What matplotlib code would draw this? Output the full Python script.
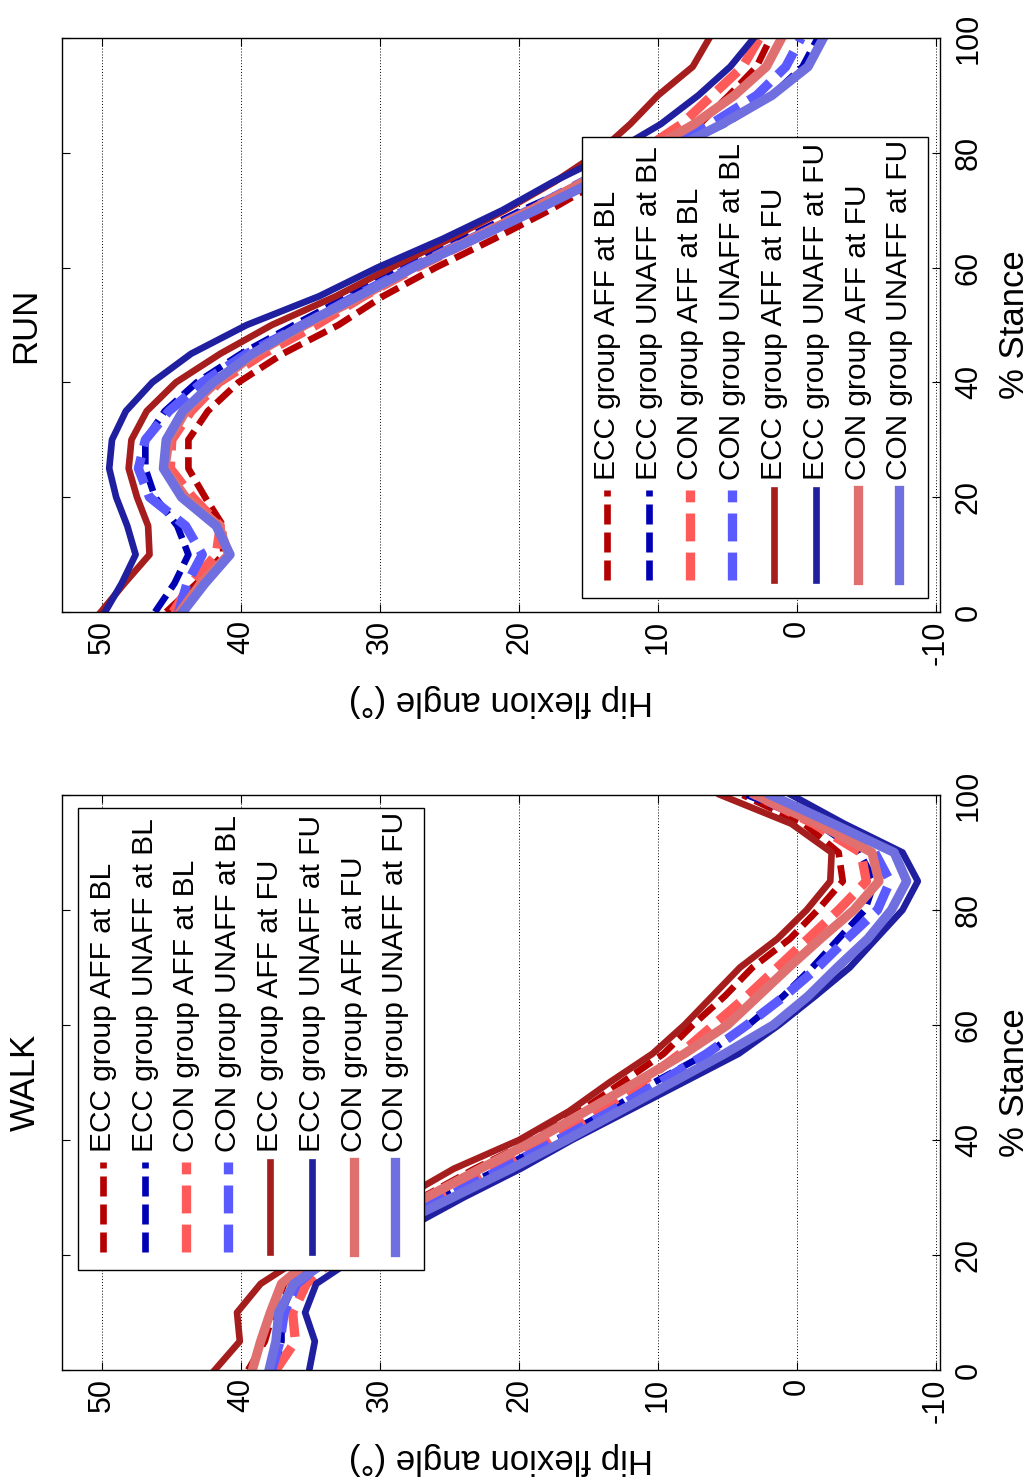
import matplotlib
matplotlib.use('Agg')
import matplotlib.pyplot as plt
from matplotlib.patches import Rectangle

plt.rcParams['font.family'] = ['Liberation Sans', 'DejaVu Sans']
plt.rcParams['axes.unicode_minus'] = False

# % de apoyo (eje vertical de la figura girada)
stance = [0, 5, 10, 15, 20, 25, 30, 35, 40, 45, 50, 55, 60, 65, 70, 75, 80, 85, 90, 95, 100]

# RUN - angulo de flexion de cadera (grados)
run_ecc_aff_bl = [45.4, 43.2, 41.3, 41.3, 42.6, 43.8, 43.8, 42.4, 40.2, 37.0, 33.0, 29.8, 26.0, 21.8, 17.8, 14.2, 10.4, 7.0, 4.9, 2.9, 1.9]
run_ecc_unaff_bl = [46.2, 44.8, 43.8, 44.6, 46.2, 46.9, 46.9, 45.5, 43.2, 40.0, 36.2, 32.3, 28.3, 24.0, 19.8, 15.2, 9.6, 5.2, 1.8, -0.4, -1.5]
run_con_aff_bl = [44.9, 43.6, 41.8, 41.5, 43.5, 45.1, 45.0, 43.6, 41.6, 38.4, 34.6, 31.2, 27.4, 23.2, 19.0, 15.3, 11.4, 8.3, 6.1, 3.9, 2.7]
run_con_unaff_bl = [44.5, 43.9, 42.8, 44.0, 46.6, 47.4, 46.9, 45.2, 42.8, 39.6, 35.6, 31.8, 27.8, 23.5, 19.3, 15.4, 10.0, 6.2, 2.9, 0.8, -0.3]
run_ecc_aff_fu = [50.1, 48.4, 46.6, 46.7, 47.5, 48.1, 47.9, 46.8, 44.7, 41.5, 37.8, 33.2, 29.2, 25.0, 21.0, 17.4, 14.3, 12.0, 10.0, 7.5, 6.3]
run_ecc_unaff_fu = [49.8, 48.6, 47.6, 48.2, 49.0, 49.5, 49.3, 48.3, 46.4, 43.6, 39.6, 34.4, 30.2, 25.5, 21.2, 17.5, 13.3, 9.8, 7.1, 4.8, 3.1]
run_con_aff_fu = [44.4, 42.9, 40.9, 41.6, 44.0, 45.5, 45.2, 44.0, 41.8, 39.0, 35.4, 31.3, 27.6, 23.4, 19.2, 15.3, 11.0, 7.4, 4.5, 2.2, 1.1]
run_con_unaff_fu = [44.2, 42.6, 40.8, 41.8, 44.3, 45.6, 45.4, 44.2, 42.0, 39.2, 35.6, 31.6, 27.6, 23.2, 18.8, 14.6, 9.4, 5.4, 1.8, -0.8, -1.9]

# WALK - angulo de flexion de cadera (grados)
walk_ecc_aff_bl = [39.5, 38.3, 37.7, 36.9, 34.3, 30.6, 27.0, 23.2, 19.0, 15.6, 12.6, 9.6, 7.5, 5.2, 3.2, 0.5, -1.5, -3.3, -3.0, -0.5, 3.9]
walk_ecc_unaff_bl = [37.6, 37.1, 37.1, 36.2, 33.6, 29.6, 25.6, 21.4, 17.4, 13.6, 10.3, 6.5, 3.5, 1.0, -1.1, -3.0, -4.9, -5.6, -4.5, -1.5, 3.6]
walk_con_aff_bl = [37.5, 36.1, 36.3, 35.3, 33.0, 29.2, 25.4, 21.6, 17.8, 14.3, 11.2, 8.4, 6.0, 3.6, 1.4, -0.8, -3.0, -5.0, -4.6, -1.2, 3.0]
walk_con_unaff_bl = [37.8, 37.2, 36.9, 36.0, 33.4, 29.4, 25.3, 21.2, 17.2, 13.4, 9.9, 6.5, 3.6, 0.9, -1.5, -3.6, -5.8, -6.7, -5.6, -1.8, 2.4]
walk_ecc_aff_fu = [41.9, 40.1, 40.3, 38.6, 35.4, 31.6, 28.3, 24.7, 20.0, 16.4, 13.5, 10.4, 8.1, 6.1, 4.1, 1.4, -0.7, -2.4, -2.5, 0.4, 5.5]
walk_ecc_unaff_fu = [35.1, 34.7, 35.4, 34.6, 31.5, 27.8, 24.0, 19.9, 16.2, 12.2, 8.2, 4.2, 1.3, -1.3, -3.8, -5.7, -7.6, -8.7, -7.6, -3.4, 0.4]
walk_con_aff_fu = [39.2, 38.6, 37.9, 37.1, 34.6, 30.6, 26.7, 22.8, 18.8, 15.2, 11.6, 8.1, 5.0, 2.8, 0.6, -1.7, -4.1, -5.9, -5.4, -1.5, 3.0]
walk_con_unaff_fu = [38.0, 37.5, 37.3, 36.2, 33.2, 29.0, 24.8, 20.6, 16.6, 12.8, 9.0, 5.2, 1.7, -0.8, -2.9, -5.1, -6.8, -7.9, -7.0, -2.6, 1.9]

labels = ['ECC group AFF at BL', 'ECC group UNAFF at BL', 'CON group AFF at BL', 'CON group UNAFF at BL',
          'ECC group AFF at FU', 'ECC group UNAFF at FU', 'CON group AFF at FU', 'CON group UNAFF at FU']
colors = ['#b40000', '#0000b4', '#ff5a5a', '#5a5aff', '#a51d1d', '#1f1fa0', '#e07070', '#6f6fe0']
dashed = (0, (3.0, 1.2))
estilos = [dashed, dashed, dashed, dashed, '-', '-', '-', '-']
anchos = [4.8, 4.8, 6.7, 6.7, 4.8, 4.8, 6.7, 6.7]

angle_ticks = [50, 40, 30, 20, 10, 0, -10]
stance_ticks = [0, 20, 40, 60, 80, 100]


def estilo_ejes(ax, titulo):
    ax.set_xlim(52.9, -10.3)
    ax.set_ylim(0, 100)
    ax.set_xticks(angle_ticks, [str(t) for t in angle_ticks], rotation=90)
    ax.set_yticks(stance_ticks, [str(t) for t in stance_ticks], rotation=90, va='center')
    ax.tick_params(axis='both', direction='in', length=6, width=0.8, labelsize=22,
                   top=True, right=True, left=True, bottom=True)
    ax.tick_params(axis='y', labelleft=False, labelright=True, pad=10)
    ax.tick_params(axis='x', pad=6)
    ax.yaxis.set_label_position('right')
    ax.set_ylabel('% Stance', fontsize=25, rotation=90, labelpad=10)
    ax.set_xlabel('Hip flexion angle (°)', fontsize=25, rotation=180, labelpad=14)
    ax.grid(axis='x', color='black', linestyle=(0, (1, 2)), linewidth=0.7)
    ax.set_axisbelow(True)
    for s in ax.spines.values():
        s.set_linewidth(1.0)
    ax.text(-0.023, 0.5, titulo, rotation=90, ha='right', va='center', fontsize=25,
            transform=ax.transAxes)


def leyenda(ax, x0, y0):
    # leyenda girada dibujada a mano (columnas verticales)
    ax.add_patch(Rectangle((x0, y0), 0.394, 0.803, transform=ax.transAxes, facecolor='white',
                           edgecolor='black', linewidth=1.0, zorder=5))
    for i in range(8):
        cx = x0 + 0.0285 + i * 0.0476
        ax.plot([cx, cx], [y0 + 0.0314, y0 + 0.0314 + 0.157], transform=ax.transAxes,
                color=colors[i], linestyle=estilos[i], linewidth=anchos[i], zorder=6)
        ax.text(cx, y0 + 0.2056, labels[i], rotation=90, ha='center', va='bottom',
                fontsize=21.5, transform=ax.transAxes, zorder=6)


fig = plt.figure(figsize=(10.33, 14.84), dpi=100)
ax_run = fig.add_axes([0.060, 0.5876, 0.850, 0.3868])
ax_walk = fig.add_axes([0.060, 0.0768, 0.850, 0.3875])

run_series = [run_ecc_aff_bl, run_ecc_unaff_bl, run_con_aff_bl, run_con_unaff_bl,
              run_ecc_aff_fu, run_ecc_unaff_fu, run_con_aff_fu, run_con_unaff_fu]
walk_series = [walk_ecc_aff_bl, walk_ecc_unaff_bl, walk_con_aff_bl, walk_con_unaff_bl,
               walk_ecc_aff_fu, walk_ecc_unaff_fu, walk_con_aff_fu, walk_con_unaff_fu]

for ax, series in [(ax_run, run_series), (ax_walk, walk_series)]:
    for i, vals in enumerate(series):
        ax.plot(vals, stance, color=colors[i], linestyle=estilos[i], linewidth=anchos[i],
                solid_joinstyle='round', zorder=2)

estilo_ejes(ax_run, 'RUN')
estilo_ejes(ax_walk, 'WALK')
leyenda(ax_run, 0.592, 0.0244)
leyenda(ax_walk, 0.018, 0.174)

fig.savefig('out.png', dpi=100, facecolor='white')
